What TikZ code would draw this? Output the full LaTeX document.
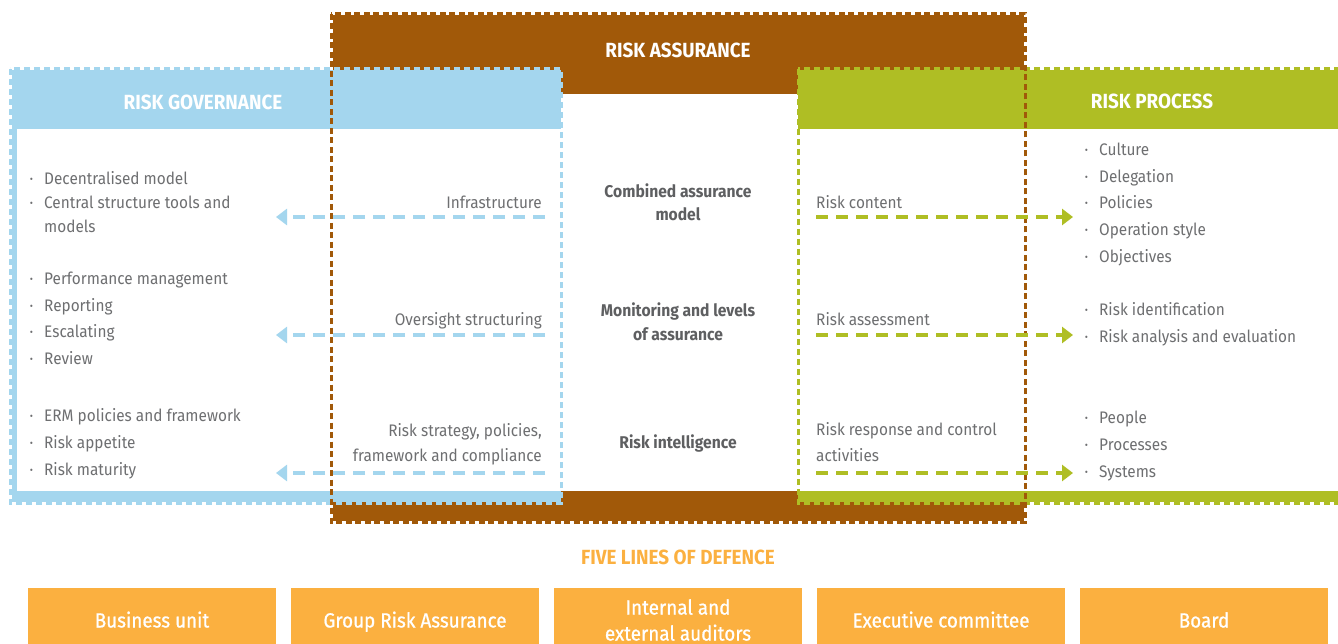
\documentclass[tikz,border=0pt]{standalone}
\usepackage{fontspec}
\setmainfont{Fira Sans}[FakeStretch=0.92]
\newfontfamily\medfont{Fira Sans}[FakeStretch=0.92, FakeBold=0.8]
\usetikzlibrary{arrows.meta}
\definecolor{rbrown}{HTML}{A15909}
\definecolor{rblue}{HTML}{A4D6EE}
\definecolor{rgreen}{HTML}{AFBE24}
\definecolor{rorange}{HTML}{FBB040}
\definecolor{tgray}{HTML}{6E6F71}
\definecolor{cgray}{HTML}{5E5F61}
\newcommand\bl{\llap{\textperiodcentered\hspace{11pt}}}
\begin{document}
\begin{tikzpicture}[x=1pt,y=-1pt,
  txt/.style={inner sep=0pt, text=tgray, font=\fontsize{16.7}{20}\selectfont},
  lt/.style={txt, anchor=base west},
  rt/.style={txt, anchor=base east},
  ct/.style={inner sep=0pt, text=cgray, font=\fontsize{17}{20}\selectfont\bfseries, anchor=base},
  head/.style={inner sep=0pt, text=white, font=\fontsize{20.5}{24}\selectfont\bfseries, anchor=base},
  fbox/.style={fill=rorange, text=white, minimum width=248pt, minimum height=64pt, inner sep=0pt,
    font=\fontsize{20.5}{26}\medfont, align=center},
  fone/.style={fbox, text height=15pt, text depth=0pt},
  barrow/.style={draw=rblue, line width=3.4pt, dash pattern=on 12pt off 8pt, -{Triangle[length=11pt,width=16pt]}},
  garrow/.style={draw=rgreen, line width=3.4pt, dash pattern=on 12pt off 8pt, -{Triangle[length=11pt,width=16pt]}},
  edge/.style={line width=3pt, dash pattern=on 6pt off 4pt}]
\useasboundingbox (0,0) rectangle (1338,644);
% fills
\fill[rbrown] (332.5,15.5) rectangle (1023.5,520.5);
\fill[white] (561,94) rectangle (798,491);
\fill[rblue] (11.5,70.5) rectangle (561,501.5);
\fill[white] (17,129) rectangle (561,491);
\fill[rgreen] (798,70.5) rectangle (1345,501.5);
\fill[white] (798,129) rectangle (1345,491);
% dashed outlines
\draw[rblue, edge] (10,69) rectangle (561,503);
\draw[rgreen, edge] (798,69) rectangle (1345,503);
\draw[rbrown, edge, dash pattern=on 6pt off 3.5pt] (331,14) rectangle (1025,522);
% headings
\node[head] (hra) at (678,57.7) {RISK ASSURANCE};
\node[head] (hrg) at (203,109.3) {RISK GOVERNANCE};
\node[head] (hrp) at (1152,109) {RISK PROCESS};
% centre column
\node[ct] (c1a) at (678,197.7) {Combined assurance};
\node[ct] (c1b) at (678,221) {model};
\node[ct] (c2a) at (678,316.5) {Monitoring and levels};
\node[ct] (c2b) at (678,340.5) {of assurance};
\node[ct] (c3) at (678,448.5) {Risk intelligence};
% left inner texts
\node[rt] (l1) at (542,209) {Infrastructure};
\node[rt] (l2) at (542,325) {Oversight structuring};
\node[rt] (l3a) at (542,436) {Risk strategy, policies,};
\node[rt] (l3b) at (542,461) {framework and compliance};
% right inner texts
\node[lt] (r1) at (816,209) {Risk content};
\node[lt] (r2) at (816,325) {Risk assessment};
\node[lt] (r3a) at (816,435.5) {Risk response and control};
\node[lt] (r3b) at (816,461) {activities};
% left list
\node[lt] (ga1) at (44,184.5) {\bl Decentralised model};
\node[lt] (ga2) at (44,208.5) {\bl Central structure tools and};
\node[lt] (ga3) at (44,232.5) {models};
\node[lt] (gb1) at (44,284.5) {\bl Performance management};
\node[lt] (gb2) at (44,311) {\bl Reporting};
\node[lt] (gb3) at (44,337.5) {\bl Escalating};
\node[lt] (gb4) at (44,364) {\bl Review};
\node[lt] (gc1) at (44,421.5) {\bl ERM policies and framework};
\node[lt] (gc2) at (44,448.5) {\bl Risk appetite};
\node[lt] (gc3) at (44,475.5) {\bl Risk maturity};
% right list
\node[lt] (pa1) at (1099,156) {\bl Culture};
\node[lt] (pa2) at (1099,182.7) {\bl Delegation};
\node[lt] (pa3) at (1099,209) {\bl Policies};
\node[lt] (pa4) at (1099,235.7) {\bl Operation style};
\node[lt] (pa5) at (1099,262.3) {\bl Objectives};
\node[lt] (pb1) at (1099,315.7) {\bl Risk identification};
\node[lt] (pb2) at (1099,342.3) {\bl Risk analysis and evaluation};
\node[lt] (pc1) at (1099,423.3) {\bl People};
\node[lt] (pc2) at (1099,450) {\bl Processes};
\node[lt] (pc3) at (1099,477) {\bl Systems};
% arrows
\coordinate (bs1) at (545,217); \coordinate (be1) at (276,217);
\coordinate (bs2) at (545,335); \coordinate (be2) at (276,335);
\coordinate (bs3) at (545,473); \coordinate (be3) at (276,473);
\coordinate (gs1) at (816,217); \coordinate (ge1) at (1073,217);
\coordinate (gs2) at (816,335); \coordinate (ge2) at (1073,335);
\coordinate (gs3) at (816,473); \coordinate (ge3) at (1073,473);
\draw[barrow] (bs1) -- (be1);
\draw[barrow] (bs2) -- (be2);
\draw[barrow] (bs3) -- (be3);
\draw[garrow] (gs1) -- (ge1);
\draw[garrow] (gs2) -- (ge2);
\draw[garrow] (gs3) -- (ge3);
% five lines of defence
\node[inner sep=0pt, anchor=base, text=rorange, font=\fontsize{20.5}{24}\selectfont\bfseries] (five) at (678,564.3) {FIVE LINES OF DEFENCE};
\node[fone] (d1) at (152,620) {Business unit};
\node[fone] (d2) at (415,620) {Group Risk Assurance};
\node[fbox] (d3) at (678,620) {Internal and\\external auditors};
\node[fone] (d4) at (941,620) {Executive committee};
\node[fone] (d5) at (1204,620) {Board};
\end{tikzpicture}
\end{document}
